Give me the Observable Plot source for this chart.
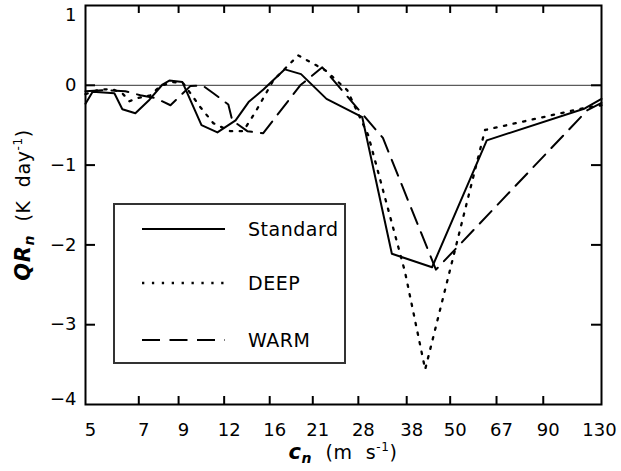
<!DOCTYPE html>
<html><head><meta charset="utf-8">
<script src="https://cdn.jsdelivr.net/npm/d3@7"></script>
<script src="https://cdn.jsdelivr.net/npm/@observablehq/plot@0.6"></script>
<style>
body{margin:0;background:#fff;}
#wrap{position:relative;width:621px;height:471px;font-family:"DejaVu Sans",sans-serif;}
</style></head><body><div id="wrap"></div>
<script>
// Standard experiment
const stdC = [5.0, 5.23, 6.0, 6.31, 6.85, 7.49, 8.13, 8.49, 9.22, 10.4, 11.5, 12.9, 14.0, 15.4, 17.6, 19.5, 22.9, 28.7, 34.6, 44.6, 63.0, 117, 130];
const stdQ = [-0.23, -0.08, -0.10, -0.30, -0.35, -0.18, 0.01, 0.06, 0.04, -0.50, -0.59, -0.44, -0.21, -0.05, 0.20, 0.14, -0.17, -0.40, -2.11, -2.28, -0.69, -0.29, -0.17];
// DEEP experiment
const deepC = [5.0, 5.5, 5.93, 6.31, 6.6, 6.94, 7.53, 8.02, 8.65, 9.27, 10.33, 11.21, 12.47, 13.54, 14.6, 16.36, 19.15, 22.7, 26.1, 29.8, 37.6, 42.7, 62.3, 119, 130];
const deepQ = [-0.11, -0.05, -0.05, -0.10, -0.20, -0.16, -0.125, -0.01, 0.04, 0.025, -0.275, -0.475, -0.575, -0.575, -0.34, 0.06, 0.375, 0.19, -0.06, -0.625, -2.34, -3.56, -0.56, -0.275, -0.25];
// WARM experiment
const warmC = [5.0, 5.67, 6.43, 7.07, 7.77, 8.55, 9.69, 10.46, 11.21, 12.32, 12.63, 13.89, 15.36, 19.4, 22.3, 32.7, 45.7, 119, 130];
const warmQ = [-0.075, -0.06, -0.075, -0.125, -0.16, -0.25, -0.01, 0.0, -0.10, -0.24, -0.44, -0.575, -0.60, 0.0, 0.225, -0.66, -2.31, -0.31, -0.22];

const xTicks = [5, 7, 9, 12, 16, 21, 28, 38, 50, 67, 90, 130];
const yTicks = [-4, -3, -2, -1, 0, 1];
const seriesNames = ["Standard", "DEEP", "WARM"];

const toRows = (C, Q) => C.map((c, i) => ({c, q: Q[i]}));
const std = toRows(stdC, stdQ), deep = toRows(deepC, deepQ), warm = toRows(warmC, warmQ);

const styles = {
  Standard: {strokeWidth: 2, strokeDasharray: null},
  DEEP: {strokeWidth: 2.3, strokeDasharray: "2.3,7.5"},
  WARM: {strokeWidth: 2, strokeDasharray: "17,9"}
};

const font = "DejaVu Sans";
const minus = d => d < 0 ? "\u2212" + Math.abs(d) : String(d);
const xLen = 0.1; // x-tick length in y units (8px)
const yLen = Math.pow(130 / 5, 10 / 516); // y-tick length as x ratio (10px)
const chart = Plot.plot({
  width: 621, height: 471,
  marginLeft: 85, marginRight: 20, marginTop: 5, marginBottom: 67,
  style: {fontFamily: font, fontSize: "18px", color: "black", background: "white", overflow: "visible"},
  x: {type: "log", domain: [5, 130], label: null, axis: null},
  y: {domain: [-4, 1], label: null, axis: null},
  marks: [
    Plot.ruleY([0], {stroke: "#333", strokeWidth: 1}),
    Plot.line(std, {x: "c", y: "q", stroke: "black", ...styles.Standard}),
    Plot.line(deep, {x: "c", y: "q", stroke: "black", ...styles.DEEP}),
    Plot.line(warm, {x: "c", y: "q", stroke: "black", ...styles.WARM}),
    // inward tick marks
    Plot.ruleX(xTicks.slice(1, -1), {x: d => d, y1: -4, y2: -4 + xLen, stroke: "black", strokeWidth: 2}),
    Plot.ruleX(xTicks.slice(1, -1), {x: d => d, y1: 1, y2: 1 - xLen, stroke: "black", strokeWidth: 2}),
    Plot.ruleY(yTicks.slice(1, -1), {y: d => d, x1: 5, x2: 5 * yLen, stroke: "black", strokeWidth: 2}),
    Plot.ruleY(yTicks.slice(1, -1), {y: d => d, x1: 130 / yLen, x2: 130, stroke: "black", strokeWidth: 2}),
    // tick labels
    Plot.text(xTicks.slice(0, -1), {x: d => d, frameAnchor: "bottom", lineAnchor: "top", dy: 19, dx: 5, text: d => String(d), fontSize: 18}),
    Plot.text(xTicks.slice(-1), {x: d => d, frameAnchor: "bottom", lineAnchor: "top", dy: 19, dx: -2, text: d => String(d), fontSize: 18}),
    Plot.text(yTicks.slice(1, -1), {y: d => d, frameAnchor: "left", textAnchor: "end", dx: -9, text: minus, fontSize: 18}),
    Plot.text(yTicks.slice(0, 1), {y: d => d, frameAnchor: "left", textAnchor: "end", dx: -9, dy: -5, text: minus, fontSize: 18}),
    Plot.text(yTicks.slice(-1), {y: d => d, frameAnchor: "left", textAnchor: "end", dx: -9, dy: 10, text: minus, fontSize: 18}),
    Plot.frame({stroke: "black", strokeWidth: 2})
  ]
});

const wrap = document.getElementById("wrap");
wrap.appendChild(chart);

// axis titles
const svg = d3.select(chart);
const yt = svg.append("text")
  .attr("transform", "translate(30,205) rotate(-90)")
  .attr("text-anchor", "middle")
  .attr("font-family", font).attr("font-size", 19).attr("letter-spacing", "0.6");
yt.append("tspan").attr("font-weight", "bold").attr("font-style", "italic").attr("font-size", 21).text("QR");
yt.append("tspan").attr("font-weight", "bold").attr("font-style", "italic").attr("font-size", 14).attr("dy", 4).text("n");
yt.append("tspan").attr("dy", -4).text("  (K  day");
yt.append("tspan").attr("font-size", 12).attr("dy", -8).text("-1");
yt.append("tspan").attr("dy", 8).text(")");

const xt = svg.append("text")
  .attr("x", 343).attr("y", 459)
  .attr("text-anchor", "middle")
  .attr("font-family", font).attr("font-size", 19).attr("letter-spacing", "0.6");
xt.append("tspan").attr("font-weight", "bold").attr("font-style", "italic").attr("font-size", 21).text("c");
xt.append("tspan").attr("font-weight", "bold").attr("font-style", "italic").attr("font-size", 14).attr("dy", 4).text("n");
xt.append("tspan").attr("dy", -4).text("  (m  s");
xt.append("tspan").attr("font-size", 12).attr("dy", -8).text("-1");
xt.append("tspan").attr("dy", 8).text(")");

// legend
const lw = 233, lh = 161;
const leg = d3.create("svg").attr("width", lw).attr("height", lh)
  .style("position", "absolute").style("left", "113px").style("top", "203px");
leg.append("rect").attr("x", 1).attr("y", 1).attr("width", lw - 2).attr("height", lh - 2)
  .attr("fill", "white").attr("stroke", "#333").attr("stroke-width", 2);
const rowY = [26, 80, 137];
seriesNames.forEach((name, i) => {
  const s = styles[name];
  leg.append("line").attr("x1", 29).attr("x2", 112).attr("y1", rowY[i]).attr("y2", rowY[i])
    .attr("stroke", "black").attr("stroke-width", s.strokeWidth)
    .attr("stroke-dasharray", name === "DEEP" ? "2.3,7.6" : name === "WARM" ? "18,9.5" : null);
  leg.append("text").attr("x", 135).attr("y", rowY[i] + 7)
    .attr("font-family", font).attr("font-size", 19).attr("letter-spacing", "0.5").text(name);
});
wrap.appendChild(leg.node());
</script></body></html>
